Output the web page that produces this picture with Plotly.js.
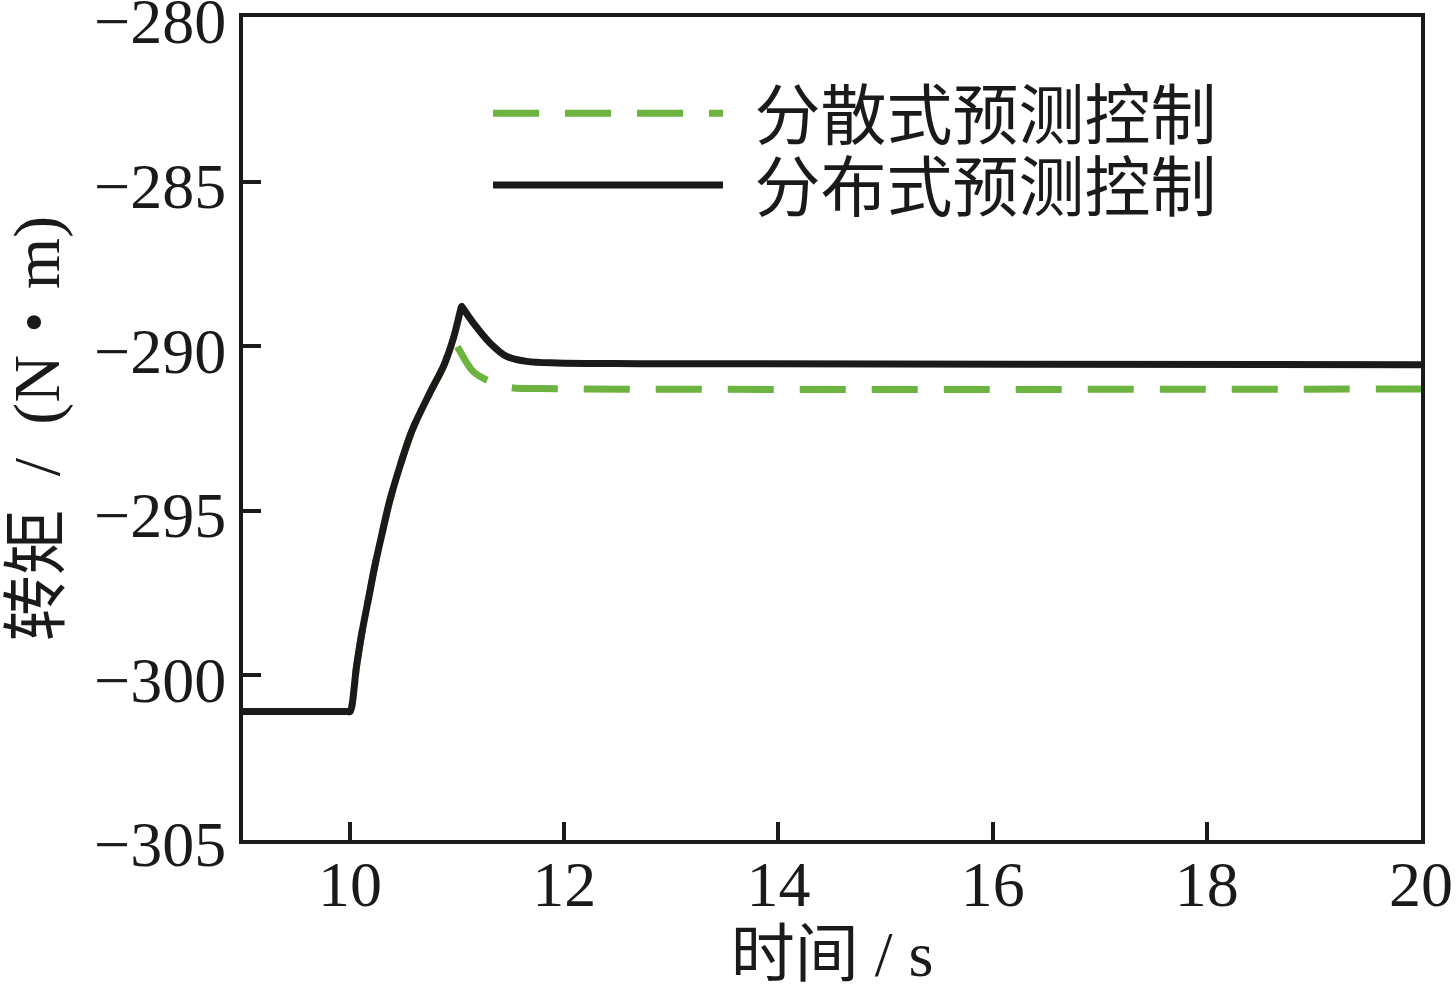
<!DOCTYPE html>
<html>
<head>
<meta charset="utf-8">
<script src="https://cdn.plot.ly/plotly-3.0.1.min.js"></script>
<style>html,body{margin:0;padding:0;background:#fff;}#chart{width:1456px;height:990px;}</style>
</head>
<body>
<div id="chart"></div>
<script>
// Data
const seriesNames = ['分散式预测控制', '分布式预测控制'];

const timeDecentral = [9, 9.98, 10.00, 10.06, 10.11, 10.17, 10.23, 10.30, 10.37, 10.47, 10.58, 10.74, 10.88, 10.964, 11.01, 11.15, 11.306, 11.49, 11.93, 20];
const torqueDecentral = [-301.1, -301.1, -301.1, -299.73, -298.71, -297.7, -296.69, -295.67, -294.7, -293.6, -292.55, -291.45, -290.55, -289.8, -290.06, -290.77, -291.07, -291.25, -291.29, -291.3];

const timeDistrib = [9, 9.98, 10.00, 10.06, 10.11, 10.17, 10.23, 10.30, 10.37, 10.47, 10.58, 10.74, 10.88, 10.97, 11.03, 11.042, 11.055, 11.15, 11.306, 11.462, 11.649, 11.929, 12.707, 20];
const torqueDistrib = [-301.1, -301.1, -301.1, -299.73, -298.71, -297.7, -296.69, -295.67, -294.7, -293.6, -292.55, -291.45, -290.55, -289.7, -288.92, -288.79, -288.85, -289.29, -289.9, -290.31, -290.46, -290.51, -290.53, -290.56];

const xTicks = [10, 12, 14, 16, 18, 20];
const yTicks = [-305, -300, -295, -290, -285, -280];

const xTitle = '时间 / s';
const yTitle = '转矩\u00a0\u00a0/\u00a0\u00a0(N・m)\u00a0';

const FONT = 'Liberation Serif, Times New Roman, Noto Sans CJK SC, serif';
const INK = '#1a1a1a';

const traces = [
  {
    x: timeDecentral, y: torqueDecentral, name: '\u2009\u2009' + seriesNames[0], mode: 'lines',
    line: {color: '#6db33f', width: 7, dash: '46px,26px', shape: 'spline', smoothing: 0.9}, legend: 'legend'
  },
  {
    x: timeDistrib, y: torqueDistrib, name: '\u2009\u2009' + seriesNames[1], mode: 'lines',
    line: {color: INK, width: 7, shape: 'spline', smoothing: 0.9}, legend: 'legend2'
  }
];

const axisCommon = {
  showline: true, mirror: true, linecolor: INK, linewidth: 4,
  ticks: 'inside', ticklen: 18, tickwidth: 4, tickcolor: INK,
  showgrid: false, zeroline: false, ticklabeloverflow: 'allow',
  tickfont: {family: FONT, size: 64, color: INK}
};

const legendCommon = {
  xanchor: 'left', yanchor: 'top',
  bgcolor: 'rgba(0,0,0,0)', borderwidth: 0,
  font: {family: FONT, size: 66, color: INK},
  itemwidth: 230
};

const layout = {
  width: 1456, height: 990,
  paper_bgcolor: '#fff', plot_bgcolor: '#fff',
  margin: {l: 243, r: 35, t: 17, b: 150},
  showlegend: true,
  legend: Object.assign({}, legendCommon, {x: 0.208, y: 0.943}),
  legend2: Object.assign({}, legendCommon, {x: 0.208, y: 0.856}),
  xaxis: Object.assign({}, axisCommon, {
    range: [9, 20], tickvals: xTicks, ticktext: xTicks.map(String),
    ticklabelstandoff: -15,
    title: {text: xTitle, font: {family: FONT, size: 64, color: INK}, standoff: 0}
  }),
  yaxis: Object.assign({}, axisCommon, {
    range: [-305, -280], tickvals: yTicks, ticktext: yTicks.map(v => '\u2212' + Math.abs(v)),
    ticklabelstandoff: 0, ticklabelshift: 4,
    title: {text: yTitle, font: {family: FONT, size: 66, color: INK}, standoff: 14}
  })
};

Plotly.newPlot('chart', traces, layout, {displayModeBar: false, staticPlot: true});
</script>
</body>
</html>
